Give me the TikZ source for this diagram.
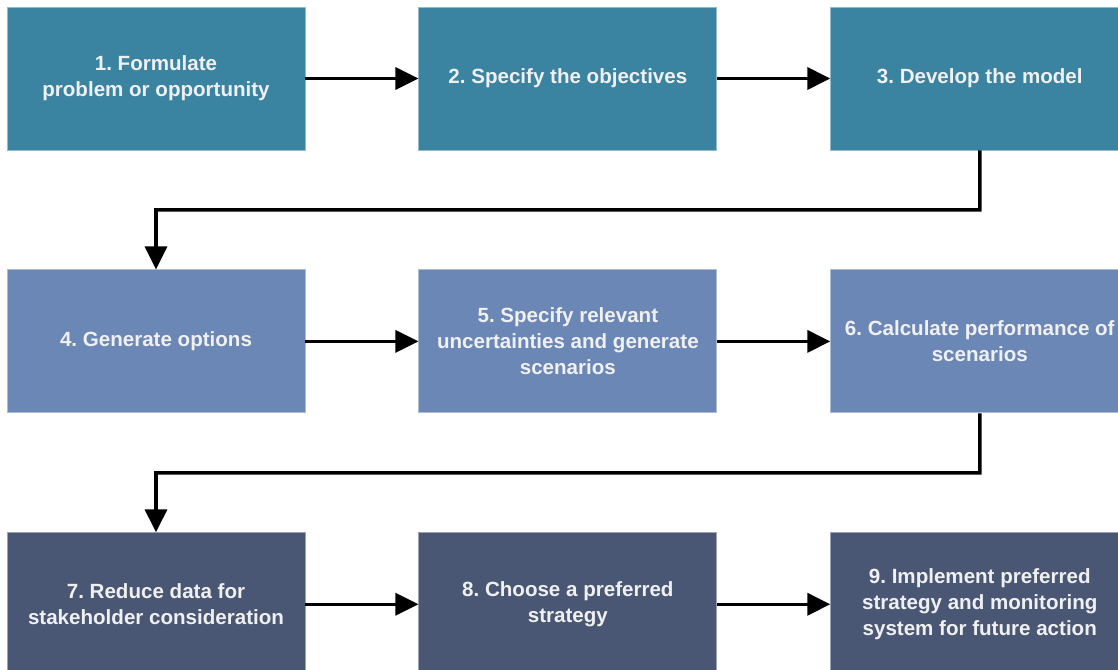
\documentclass[tikz,border=0pt]{standalone}
\usepackage{fontspec}
\setmainfont{Liberation Sans}
\usetikzlibrary{positioning,arrows.meta}
\frenchspacing
\definecolor{rowA}{HTML}{3A84A2}
\definecolor{rowB}{HTML}{6B87B6}
\definecolor{rowC}{HTML}{4A5774}
\tikzset{flow/.style={%
  -{Triangle[length=4.6mm,width=4.4mm]},
  line width=2pt,
  black,
  }
}
\tikzset{stepbox/.style={%
  rectangle,
  minimum width=5.96cm,
  minimum height=2.86cm,
  inner sep=0pt,
  align=center,
  anchor=center,
  text=white!94!black,
  font=\fontsize{11.7}{14.7}\selectfont\bfseries,
  draw=#1!55!white,
  line width=0.5pt,
  fill=#1,
  }
}
\tikzset{process/.style={node distance=2.38cm and 2.26cm}}

\begin{document}
\begin{tikzpicture}[process]
  \useasboundingbox (0,0) rectangle (22.36,13.38);

  \node (form) [stepbox=rowA] at (3.12,11.81) {1. Formulate\\problem or opportunity};
  \node (obj) [stepbox=rowA, right=of form] {2. Specify the objectives};
  \node (model) [stepbox=rowA, right=of obj] {3. Develop the model};

  \node (opt) [stepbox=rowB, below=of form] {4. Generate options};
  \node (unc) [stepbox=rowB, right=of opt] {5. Specify relevant\\uncertainties and generate\\scenarios};
  \node (perf) [stepbox=rowB, right=of unc] {6. Calculate performance of\\scenarios};

  \node (red) [stepbox=rowC, below=of opt] {7. Reduce data for\\stakeholder consideration};
  \node (pref) [stepbox=rowC, right=of red] {8. Choose a preferred\\strategy};
  \node (impl) [stepbox=rowC, right=of pref] {9. Implement preferred\\strategy and monitoring\\system for future action};

  \coordinate [below=1.19cm of model] (tmp1);
  \coordinate [above=1.19cm of opt] (tmp2);
  \coordinate [below=1.19cm of perf] (tmp3);
  \coordinate [above=1.19cm of red] (tmp4);

  \draw [flow] (form) -- (obj);
  \draw [flow] (obj) -- (model);
  \draw [flow] (model.south) -- (tmp1) -- (tmp2) -- (opt.north);
  \draw [flow] (opt) -- (unc);
  \draw [flow] (unc) -- (perf);
  \draw [flow] (perf.south) -- (tmp3) -- (tmp4) -- (red.north);
  \draw [flow] (red) -- (pref);
  \draw [flow] (pref) -- (impl);
\end{tikzpicture}
\end{document}
